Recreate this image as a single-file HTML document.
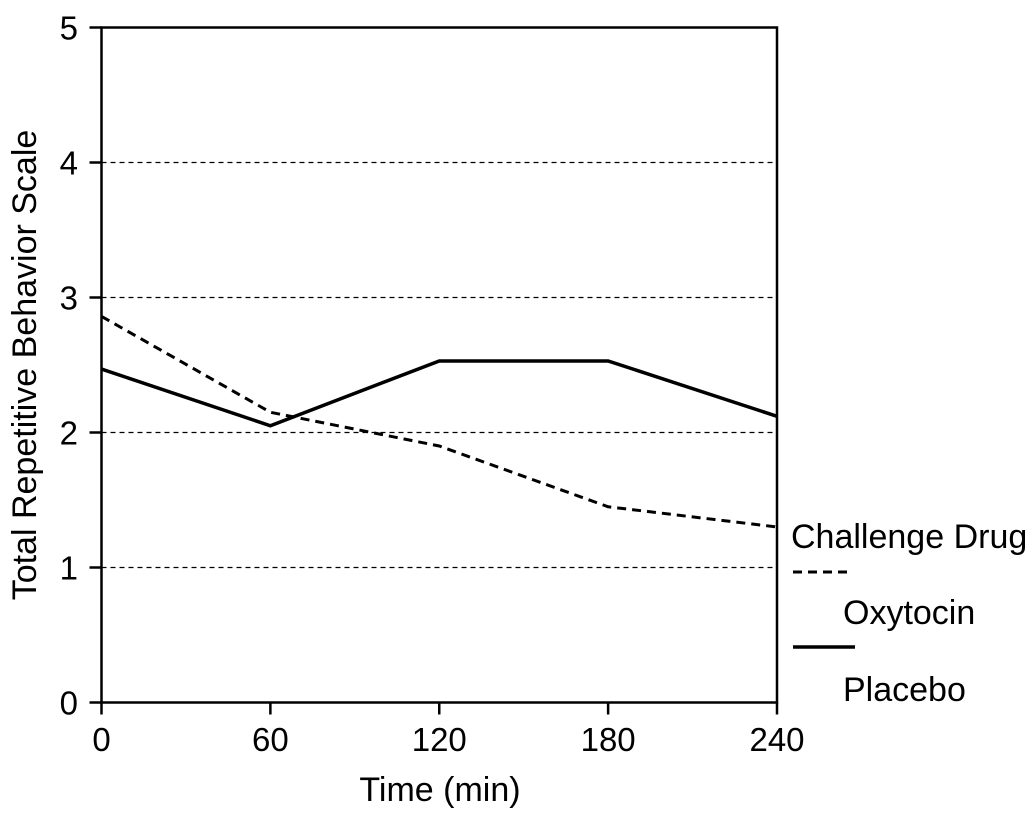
<!DOCTYPE html>
<html><head><meta charset="utf-8"><style>
html,body{margin:0;padding:0;background:#fff;}
svg text{font-family:"Liberation Sans",Arial,sans-serif;fill:#000;}
</style></head><body>
<svg id="chart" width="1036" height="813" xmlns="http://www.w3.org/2000/svg">
<g id="grid"></g>
<rect x="101.5" y="27.5" width="675.5" height="675" fill="none" stroke="#000" stroke-width="2.5"/>
<g id="axes"></g>
<g id="series"></g>
<text x="440" y="801" font-size="34" text-anchor="middle">Time (min)</text>
<text transform="translate(36,365) rotate(-90)" font-size="34" text-anchor="middle">Total Repetitive Behavior Scale</text>
<g>
<text x="791" y="548" font-size="34">Challenge Drug</text>
<line x1="793" y1="572" x2="853" y2="572" stroke="#000" stroke-width="3" stroke-dasharray="9,6"/>
<text x="843" y="624" font-size="34">Oxytocin</text>
<line x1="793" y1="647" x2="855" y2="647" stroke="#000" stroke-width="3.5"/>
<text x="843" y="701" font-size="34">Placebo</text>
</g>
</svg>
<script>
const times = [0, 60, 120, 180, 240];
const oxytocin = [2.86, 2.15, 1.90, 1.45, 1.30];
const placebo = [2.47, 2.05, 2.53, 2.53, 2.12];
const yTicks = [0, 1, 2, 3, 4, 5];
const xTicks = [0, 60, 120, 180, 240];

const NS = "http://www.w3.org/2000/svg";
const x = v => 101.5 + (v - 0) / 240 * 675.5;
const y = v => 702.5 - v / 5 * 675;
function mk(tag, attrs, parent) {
  const e = document.createElementNS(NS, tag);
  for (const k in attrs) e.setAttribute(k, attrs[k]);
  parent.appendChild(e);
  return e;
}
const grid = document.getElementById('grid');
const axes = document.getElementById('axes');
const series = document.getElementById('series');
yTicks.forEach(t => {
  if (t > 0 && t < 5) {
    const g = mk('line', {x1: x(0), x2: x(240), y1: y(t), y2: y(t), stroke: '#000', 'stroke-width': 1.3, 'stroke-dasharray': '5,4'}, grid);
    
    
  }
  const tk = mk('line', {x1: x(0) - 12, x2: x(0), y1: y(t), y2: y(t), stroke: '#000', 'stroke-width': 2.5}, axes);
  
  
  const lb = mk('text', {x: 78, y: y(t) + 12, 'font-size': 33, 'text-anchor': 'end'}, axes);
  lb.textContent = t;
  
  
});
xTicks.forEach(t => {
  const tk = mk('line', {x1: x(t), x2: x(t), y1: y(0), y2: y(0) + 12, stroke: '#000', 'stroke-width': 2.5}, axes);
  
  
  const lb = mk('text', {x: x(t), y: 751, 'font-size': 33, 'text-anchor': 'middle'}, axes);
  lb.textContent = t;
  
  
});
const pts = arr => arr.map((v, i) => x(times[i]) + ',' + y(v)).join(' ');
const p1 = mk('polyline', {points: pts(placebo), fill: 'none', stroke: '#000', 'stroke-width': 3.5}, series);


const p2 = mk('polyline', {points: pts(oxytocin), fill: 'none', stroke: '#000', 'stroke-width': 3, 'stroke-dasharray': '9,6'}, series);


</script>
</body></html>
